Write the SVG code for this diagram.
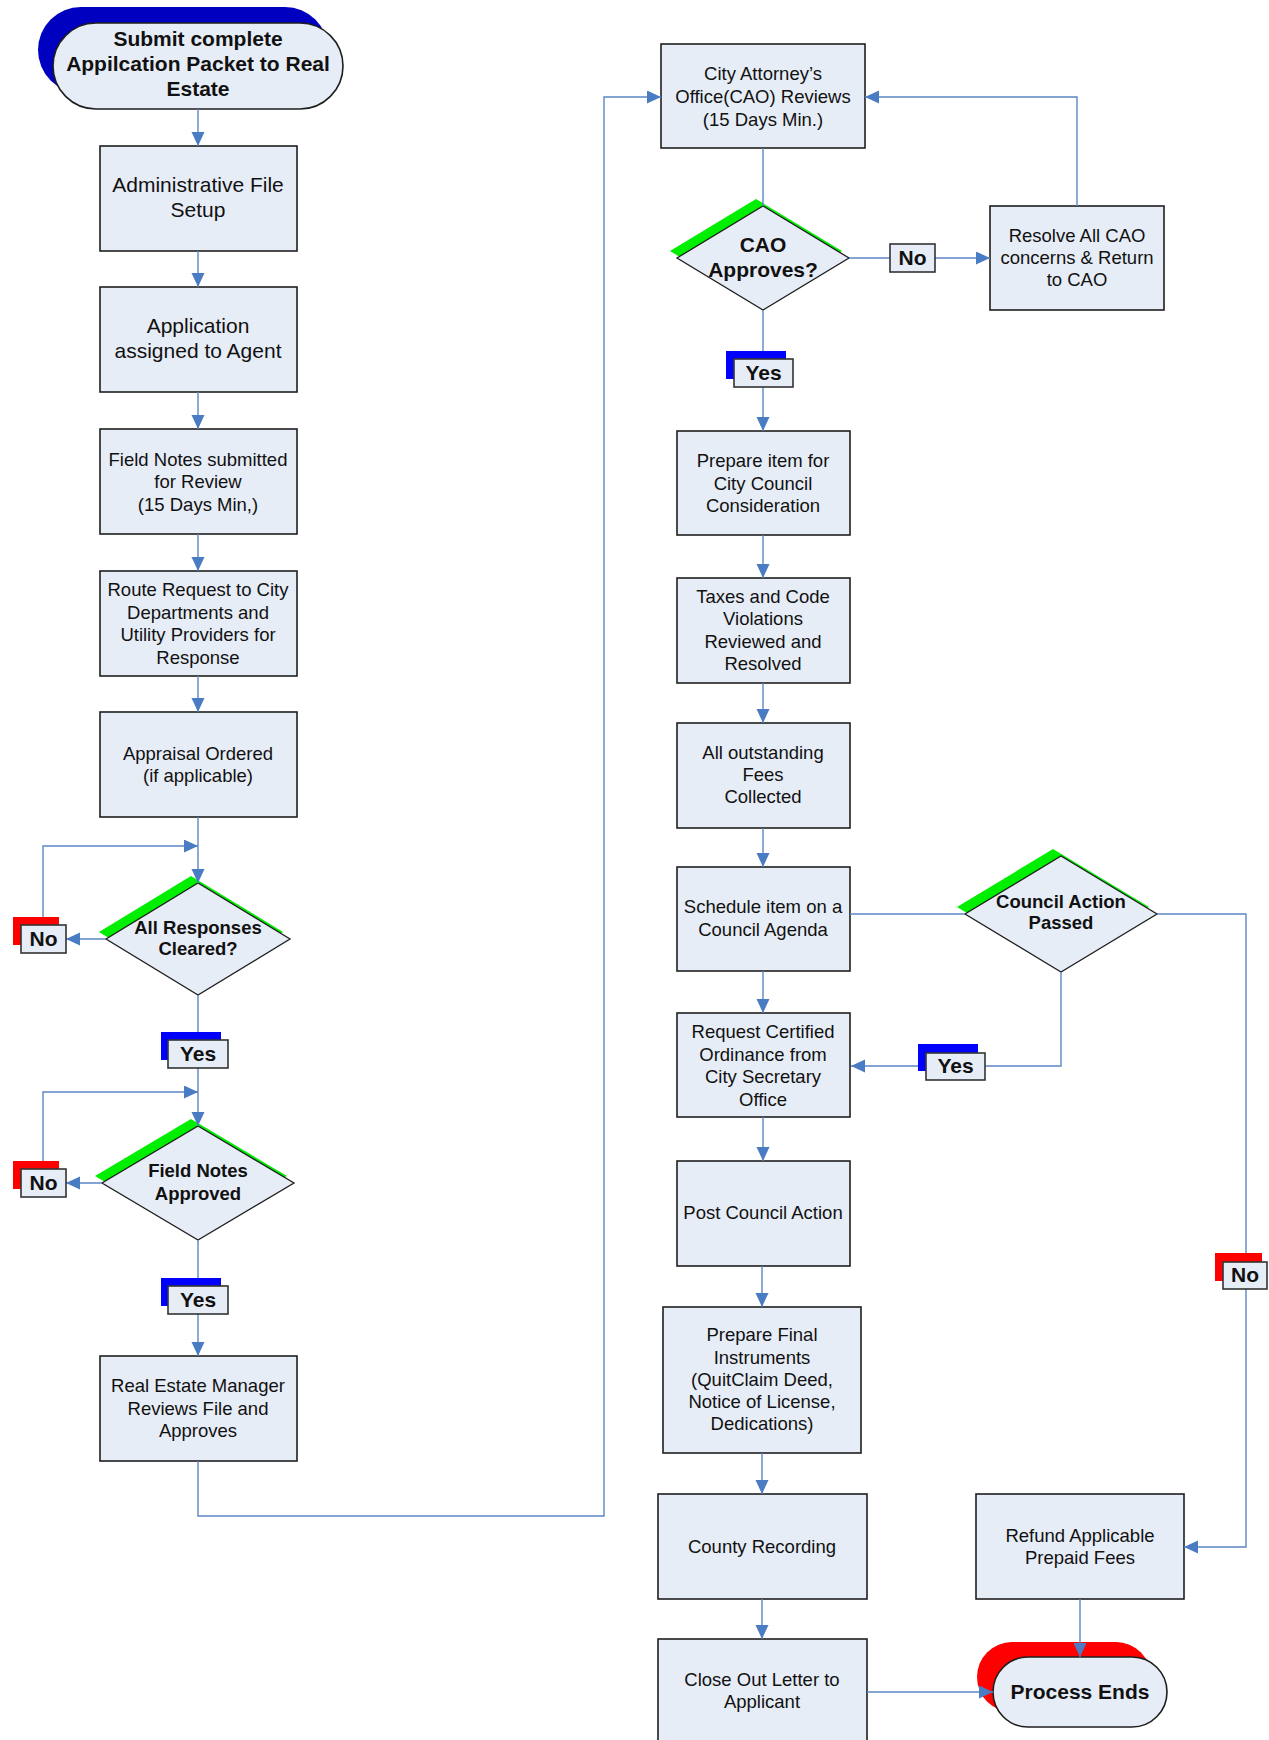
<svg xmlns="http://www.w3.org/2000/svg" width="1269" height="1740" viewBox="0 0 1269 1740">
  <defs>
    <marker id="arrow" markerUnits="userSpaceOnUse" markerWidth="14" markerHeight="14" refX="14" refY="6.5" orient="auto">
      <path d="M0,0 L14,6.5 L0,13 z" fill="#4A7CC4"/>
    </marker>
    <style>
      .box { fill: #E7EDF7; stroke: #1E1E1E; stroke-width: 1.6; }
      .dia { fill: #E7EDF7; stroke: #1E1E1E; stroke-width: 1.3; }
      .dsh { fill: #00EE00; }
      .lbl { fill: #E7EDF7; stroke: #333; stroke-width: 1.6; }
      .ysh { fill: #0000FF; }
      .nsh { fill: #FF0000; }
      .ln { fill: none; stroke: #5B87C5; stroke-width: 1.4; }
      .arr { marker-end: url(#arrow); }
      text { font-family: "Liberation Sans", Arial, sans-serif; fill: #111; text-anchor: middle; dominant-baseline: central; }
      .t { font-size: 18.5px; }
      .tl { font-size: 21px; }
      .b { font-weight: bold; font-size: 18.5px; }
      .bl { font-weight: bold; font-size: 21px; }
    </style>
  </defs>

  <!-- start terminator -->
  <g id="start">
    <rect x="38" y="7" width="290" height="86" rx="43" fill="#0000C0"/>
    <rect x="53" y="23" width="290" height="86" rx="43" class="box" stroke-width="1.3"/>
    <text class="bl" x="198" y="38.5">Submit complete</text>
    <text class="bl" x="198" y="63.5">Appilcation Packet to Real</text>
    <text class="bl" x="198" y="88.5">Estate</text>
  </g>

  <!-- left column -->
  <g id="admin-setup">
    <rect class="box" x="100" y="146" width="197" height="105"/>
    <text class="tl" x="198" y="184">Administrative File</text>
    <text class="tl" x="198" y="209">Setup</text>
  </g>
  <g id="assign-agent">
    <rect class="box" x="100" y="287" width="197" height="105"/>
    <text class="tl" x="198" y="325.5">Application</text>
    <text class="tl" x="198" y="350.5">assigned to Agent</text>
  </g>
  <g id="field-notes">
    <rect class="box" x="100" y="429" width="197" height="105"/>
    <text class="t" x="198" y="459">Field Notes submitted</text>
    <text class="t" x="198" y="481.5">for Review</text>
    <text class="t" x="198" y="504">(15 Days Min,)</text>
  </g>
  <g id="route-request">
    <rect class="box" x="100" y="571" width="197" height="105"/>
    <text class="t" x="198" y="589.5">Route Request to City</text>
    <text class="t" x="198" y="612">Departments and</text>
    <text class="t" x="198" y="634.5">Utility Providers for</text>
    <text class="t" x="198" y="657">Response</text>
  </g>
  <g id="appraisal">
    <rect class="box" x="100" y="712" width="197" height="105"/>
    <text class="t" x="198" y="753">Appraisal Ordered</text>
    <text class="t" x="198" y="775.5">(if applicable)</text>
  </g>
  <g id="responses-cleared">
    <polygon class="dsh" points="191,876 283,932 191,988 99,932"/>
    <polygon class="dia" points="198,883 290,939 198,995 106,939"/>
    <text class="b" x="198" y="927">All Responses</text>
    <text class="b" x="198" y="948">Cleared?</text>
  </g>
  <g id="field-notes-approved">
    <polygon class="dsh" points="191,1119 287,1176 191,1233 95,1176"/>
    <polygon class="dia" points="198,1126 294,1183 198,1240 102,1183"/>
    <text class="b" x="198" y="1170">Field Notes</text>
    <text class="b" x="198" y="1193">Approved</text>
  </g>
  <g id="manager-review">
    <rect class="box" x="100" y="1356" width="197" height="105"/>
    <text class="t" x="198" y="1385.5">Real Estate Manager</text>
    <text class="t" x="198" y="1408">Reviews File and</text>
    <text class="t" x="198" y="1430.5">Approves</text>
  </g>

  <!-- right column -->
  <g id="cao-review">
    <rect class="box" x="661" y="44" width="204" height="104"/>
    <text class="t" x="763" y="73">City Attorney’s</text>
    <text class="t" x="763" y="96.5">Office(CAO) Reviews</text>
    <text class="t" x="763" y="119">(15 Days Min.)</text>
  </g>
  <g id="cao-approves">
    <polygon class="dsh" points="756,199 842,251 756,303 670,251"/>
    <polygon class="dia" points="763,206 849,258 763,310 677,258"/>
    <text class="bl" x="763" y="244">CAO</text>
    <text class="bl" x="763" y="269">Approves?</text>
  </g>
  <g id="resolve-cao">
    <rect class="box" x="990" y="206" width="174" height="104"/>
    <text class="t" x="1077" y="235.5">Resolve All CAO</text>
    <text class="t" x="1077" y="257.5">concerns &amp; Return</text>
    <text class="t" x="1077" y="279.5">to CAO</text>
  </g>
  <g id="prepare-item">
    <rect class="box" x="677" y="431" width="173" height="104"/>
    <text class="t" x="763" y="460.5">Prepare item for</text>
    <text class="t" x="763" y="483">City Council</text>
    <text class="t" x="763" y="505.5">Consideration</text>
  </g>
  <g id="taxes-code">
    <rect class="box" x="677" y="578" width="173" height="105"/>
    <text class="t" x="763" y="596.5">Taxes and Code</text>
    <text class="t" x="763" y="618.5">Violations</text>
    <text class="t" x="763" y="641">Reviewed and</text>
    <text class="t" x="763" y="663">Resolved</text>
  </g>
  <g id="fees-collected">
    <rect class="box" x="677" y="723" width="173" height="105"/>
    <text class="t" x="763" y="752.5">All outstanding</text>
    <text class="t" x="763" y="774.5">Fees</text>
    <text class="t" x="763" y="796.5">Collected</text>
  </g>
  <g id="schedule-agenda">
    <rect class="box" x="677" y="867" width="173" height="104"/>
    <text class="t" x="763" y="906.5">Schedule item on a</text>
    <text class="t" x="763" y="929.5">Council Agenda</text>
  </g>
  <g id="council-passed">
    <polygon class="dsh" points="1053,849 1149,907 1053,965 957,907"/>
    <polygon class="dia" points="1061,856 1157,914 1061,972 965,914"/>
    <text class="b" x="1061" y="901">Council Action</text>
    <text class="b" x="1061" y="922">Passed</text>
  </g>
  <g id="certified-ordinance">
    <rect class="box" x="677" y="1013" width="173" height="104"/>
    <text class="t" x="763" y="1031.5">Request Certified</text>
    <text class="t" x="763" y="1054">Ordinance from</text>
    <text class="t" x="763" y="1076.5">City Secretary</text>
    <text class="t" x="763" y="1099">Office</text>
  </g>
  <g id="post-action">
    <rect class="box" x="677" y="1161" width="173" height="105"/>
    <text class="t" x="763" y="1212.5">Post Council Action</text>
  </g>
  <g id="final-instruments">
    <rect class="box" x="663" y="1307" width="198" height="146"/>
    <text class="t" x="762" y="1334.5">Prepare Final</text>
    <text class="t" x="762" y="1357">Instruments</text>
    <text class="t" x="762" y="1379.5">(QuitClaim Deed,</text>
    <text class="t" x="762" y="1401.5">Notice of License,</text>
    <text class="t" x="762" y="1423.5">Dedications)</text>
  </g>
  <g id="county-recording">
    <rect class="box" x="658" y="1494" width="209" height="105"/>
    <text class="t" x="762" y="1546.5">County Recording</text>
  </g>
  <g id="close-out">
    <rect class="box" x="658" y="1639" width="209" height="110"/>
    <text class="t" x="762" y="1679.5">Close Out Letter to</text>
    <text class="t" x="762" y="1701.5">Applicant</text>
  </g>
  <g id="refund-fees">
    <rect class="box" x="976" y="1494" width="208" height="105"/>
    <text class="t" x="1080" y="1535.5">Refund Applicable</text>
    <text class="t" x="1080" y="1557.5">Prepaid Fees</text>
  </g>
  <g id="end">
    <rect x="977" y="1642" width="174" height="70" rx="35" fill="#FF0000"/>
    <rect x="993" y="1657" width="174" height="70" rx="35" class="box" stroke-width="1.3"/>
    <text class="bl" x="1080" y="1691">Process Ends</text>
  </g>

  <!-- connectors (drawn over node shadows, ending at node edges) -->
  <g id="connectors">
    <path class="ln arr" d="M198,109 V146"/>
    <path class="ln arr" d="M198,251 V287"/>
    <path class="ln arr" d="M198,392 V429"/>
    <path class="ln arr" d="M198,534 V571"/>
    <path class="ln arr" d="M198,676 V712"/>
    <path class="ln arr" d="M198,817 V883"/>
    <path class="ln arr" d="M43,925 V846 H198"/>
    <path class="ln arr" d="M106,939 H66"/>
    <path class="ln arr" d="M198,995 V1126"/>
    <path class="ln arr" d="M43,1169 V1092 H198"/>
    <path class="ln arr" d="M102,1183 H66"/>
    <path class="ln arr" d="M198,1240 V1356"/>
    <path class="ln arr" d="M198,1461 V1516 H604 V97 H661"/>
    <path class="ln" d="M763,148 V206"/>
    <path class="ln arr" d="M849,258 H990"/>
    <path class="ln arr" d="M1077,206 V97 H865"/>
    <path class="ln arr" d="M763,310 V431"/>
    <path class="ln arr" d="M763,535 V578"/>
    <path class="ln arr" d="M763,683 V723"/>
    <path class="ln arr" d="M763,828 V867"/>
    <path class="ln" d="M850,914 H965"/>
    <path class="ln arr" d="M763,971 V1013"/>
    <path class="ln arr" d="M1061,972 V1066 H851"/>
    <path class="ln arr" d="M1157,914 H1246 V1547 H1184"/>
    <path class="ln arr" d="M763,1117 V1161"/>
    <path class="ln arr" d="M762,1266 V1307"/>
    <path class="ln arr" d="M762,1453 V1494"/>
    <path class="ln arr" d="M762,1599 V1639"/>
    <path class="ln arr" d="M867,1692 H993"/>
    <path class="ln arr" d="M1080,1599 V1657"/>
  </g>

  <!-- connector labels -->
  <g id="labels">
    <rect class="ysh" x="161" y="1032" width="60" height="28"/>
    <rect class="lbl" x="168" y="1040" width="60" height="28"/>
    <text class="bl" x="198" y="1053">Yes</text>

    <rect class="ysh" x="161" y="1278" width="60" height="28"/>
    <rect class="lbl" x="168" y="1286" width="60" height="28"/>
    <text class="bl" x="198" y="1299">Yes</text>

    <rect class="nsh" x="13" y="917" width="46" height="28"/>
    <rect class="lbl" x="21" y="925" width="45" height="28"/>
    <text class="bl" x="43.5" y="938">No</text>

    <rect class="nsh" x="13" y="1161" width="46" height="28"/>
    <rect class="lbl" x="21" y="1169" width="45" height="28"/>
    <text class="bl" x="43.5" y="1182">No</text>

    <rect class="lbl" x="890" y="244" width="45" height="28"/>
    <text class="bl" x="912.5" y="257">No</text>

    <rect class="ysh" x="726" y="351" width="60" height="28"/>
    <rect class="lbl" x="734" y="359" width="59" height="28"/>
    <text class="bl" x="763.5" y="372">Yes</text>

    <rect class="ysh" x="918" y="1044" width="60" height="27"/>
    <rect class="lbl" x="926" y="1053" width="59" height="27"/>
    <text class="bl" x="955.5" y="1065.5">Yes</text>

    <rect class="nsh" x="1215" y="1253" width="47" height="28"/>
    <rect class="lbl" x="1223" y="1262" width="44" height="27"/>
    <text class="bl" x="1245" y="1274.5">No</text>
  </g>
</svg>
